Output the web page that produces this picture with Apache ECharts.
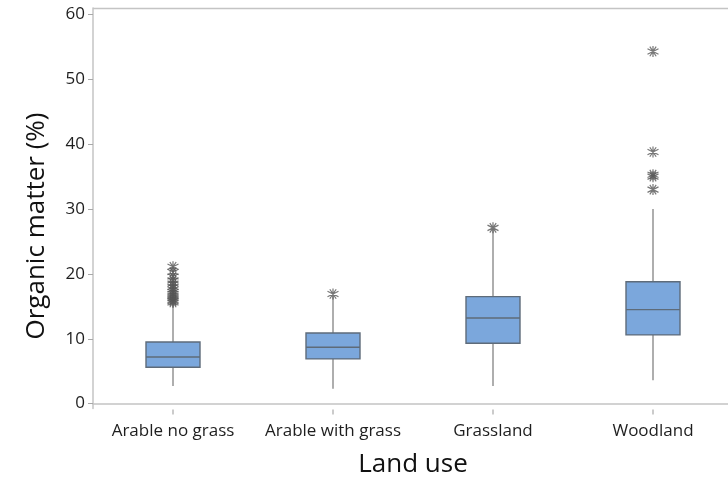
<!DOCTYPE html>
<html><head><meta charset="utf-8">
<script src="https://cdn.jsdelivr.net/npm/echarts@6/dist/echarts.min.js"></script>
<style>html,body{margin:0;padding:0;background:#fff}#c{width:728px;height:479px}</style>
</head><body><div id="c"></div>
<script>
const categories = ["Arable no grass", "Arable with grass", "Grassland", "Woodland"];
// [lower whisker, Q1, median, Q3, upper whisker]
const arableNoGrass = [2.7, 5.6, 7.2, 9.5, 15.3];
const arableWithGrass = [2.3, 6.9, 8.7, 10.9, 16.6];
const grassland = [2.7, 9.3, 13.2, 16.5, 26.8];
const woodland = [3.6, 10.6, 14.5, 18.8, 30.0];
const outliersArableNoGrass = [21.1, 20.3, 19.6, 19.0, 18.5, 18.0, 17.6, 17.2, 16.9, 16.6, 16.3, 16.0, 15.8, 15.6];
const outliersArableWithGrass = [16.9];
const outliersGrassland = [27.1];
const outliersWoodland = [54.3, 38.8, 35.3, 35.0, 33.0];
const yTicks = [0, 10, 20, 30, 40, 50, 60];
const yMin = -0.75, yMax = 61.0;

const boxData = [arableNoGrass, arableWithGrass, grassland, woodland].map((b, i) => [i].concat(b));
const outlierGroups = [outliersArableNoGrass, outliersArableWithGrass, outliersGrassland, outliersWoodland];
const outlierData = [];
outlierGroups.forEach((g, i) => g.forEach(v => outlierData.push([i, v])));

const font = "'Open Sans', 'Noto Sans', sans-serif";
const chart = echarts.init(document.getElementById('c'), null, {renderer: 'canvas'});

function renderBox(params, api) {
  const i = api.value(0);
  const lo = api.coord([i, api.value(1)]);
  const q1 = api.coord([i, api.value(2)]);
  const md = api.coord([i, api.value(3)]);
  const q3 = api.coord([i, api.value(4)]);
  const hi = api.coord([i, api.value(5)]);
  const base = api.coord([i, yMin]);
  const w = api.size([1, 0])[0] * 0.3375;
  const x = lo[0];
  return {
    type: 'group',
    children: [
      {type: 'line', shape: {x1: x, y1: lo[1], x2: x, y2: q1[1]}, style: {stroke: '#8c8c8c', lineWidth: 1.4}},
      {type: 'line', shape: {x1: x, y1: q3[1], x2: x, y2: hi[1]}, style: {stroke: '#8c8c8c', lineWidth: 1.4}},
      {type: 'rect', shape: {x: x - w / 2, y: q3[1], width: w, height: q1[1] - q3[1]},
        style: {fill: '#7ba7dc', stroke: '#5e6b79', lineWidth: 1.4}},
      {type: 'line', shape: {x1: x - w / 2, y1: md[1], x2: x + w / 2, y2: md[1]}, style: {stroke: '#5e6b79', lineWidth: 1.4}},
      {type: 'line', shape: {x1: x, y1: base[1] + 1, x2: x, y2: base[1] + 6}, style: {stroke: '#a8a8a8', lineWidth: 1.2}}
    ]
  };
}

chart.setOption({
  animation: false,
  backgroundColor: '#fff',
  grid: {left: 93, top: 8, width: 640, height: 400.5, show: false, outerBoundsMode: 'none', containLabel: false},
  xAxis: {
    type: 'category', data: categories, boundaryGap: true,
    axisLine: {lineStyle: {color: '#c4c4c4', width: 1.5}},
    axisTick: {show: false},
    axisLabel: {color: '#1e1e1e', fontFamily: font, fontSize: 17, margin: 14, interval: 0, hideOverlap: false},
    name: 'Land use', nameLocation: 'middle', nameGap: 43,
    nameTextStyle: {color: '#111', fontFamily: font, fontSize: 26}
  },
  yAxis: {
    type: 'value', min: yMin, max: yMax,
    splitLine: {show: false},
    axisLine: {show: true, lineStyle: {color: '#c4c4c4', width: 1.5}},
    axisTick: {show: true, length: 5, customValues: yTicks, lineStyle: {color: '#a8a8a8'}},
    axisLabel: {color: '#1e1e1e', fontFamily: font, fontSize: 17, margin: 8, customValues: yTicks}
  },
  graphic: [
    {type: 'line', shape: {x1: 93, y1: 8.5, x2: 728, y2: 8.5}, style: {stroke: '#c4c4c4', lineWidth: 1.5}},
    {type: 'text', x: 37, y: 226, rotation: Math.PI / 2,
      style: {text: 'Organic matter (%)', fill: '#111', font: "26px 'Open Sans', 'Noto Sans', sans-serif",
        textAlign: 'center', textVerticalAlign: 'middle'}}
  ],
  series: [
    {
      type: 'custom', data: boxData, renderItem: renderBox, clip: false,
      encode: {x: 0, y: [1, 2, 3, 4, 5]}
    },
    {
      type: 'scatter', data: outlierData,
      symbol: 'path://M0,-10L0,10M-8.66,-5L8.66,5M-8.66,5L8.66,-5M-5,-8.66L5,8.66M5,-8.66L-5,8.66',
      symbolSize: 11,
      itemStyle: {color: 'none', borderColor: '#555', borderWidth: 1.2}
    }
  ]
});
</script></body></html>
